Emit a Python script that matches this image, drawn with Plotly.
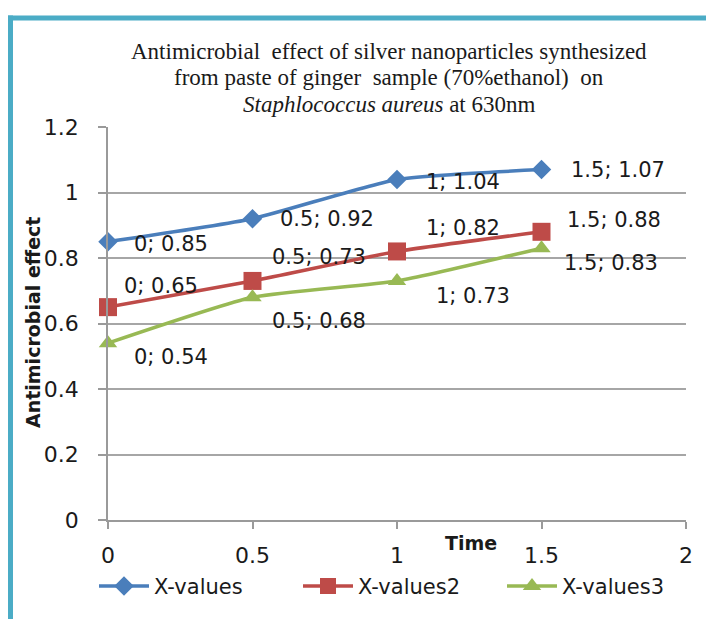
import plotly.graph_objects as go

# ---- data ----
time_x = [0, 0.5, 1, 1.5]
series1 = [0.85, 0.92, 1.04, 1.07]
series2 = [0.65, 0.73, 0.82, 0.88]
series3 = [0.54, 0.68, 0.73, 0.83]
series_names = ["X-values", "X-values2", "X-values3"]
x_ticks = [0, 0.5, 1, 1.5, 2]
y_ticks = [0, 0.2, 0.4, 0.6, 0.8, 1, 1.2]
title_lines = [
    "Antimicrobial  effect of silver nanoparticles synthesized",
    "from paste of ginger  sample (70%ethanol)  on",
    "<i>Staphlococcus aureus</i> at 630nm",
]

# ---- styles ----
colors = ["#4A7EBB", "#BE4B48", "#98B954"]
symbols = ["diamond", "square", "triangle-up"]
msizes = [15, 18, 16]
# label pixel offsets (xshift, yshift) per series / point
label_offsets = [
    [(24, -2), (25, 0), (27, -3), (27, 0)],
    [(14, 21), (17, 24), (27, 23), (23, 12)],
    [(24, -14), (17, -24), (37, -15), (20, -15)],
]

W, H = 706, 619
L, R, T, B = 108, 20, 127, 97
pw, ph = W - L - R, H - T - B

def px_x(p):
    return (p - L) / pw

def px_y(p):
    return (H - B - p) / ph

fig = go.Figure()
all_series = [series1, series2, series3]
for i, ys in enumerate(all_series):
    fig.add_trace(go.Scatter(
        x=time_x, y=ys, name=series_names[i], mode="lines+markers",
        line=dict(color=colors[i], width=3.5, shape="spline", smoothing=0.5),
        marker=dict(symbol=symbols[i], size=msizes[i], color=colors[i]),
        cliponaxis=False,
    ))

annotations = []
for i, ys in enumerate(all_series):
    for j, (xv, yv) in enumerate(zip(time_x, ys)):
        dx, dy = label_offsets[i][j]
        annotations.append(dict(
            x=xv, y=yv, xref="x", yref="y", text=f"{xv:g}; {yv:g}",
            showarrow=False, xanchor="left", yanchor="middle",
            xshift=dx, yshift=dy,
            font=dict(family="DejaVu Sans", size=21, color="#1a1a1a"),
        ))

title_y_px = [51, 77, 104]
for line, ypx in zip(title_lines, title_y_px):
    annotations.append(dict(
        x=px_x(389), y=px_y(ypx), xref="paper", yref="paper", text=line,
        showarrow=False, xanchor="center", yanchor="middle",
        font=dict(family="Liberation Serif", size=23, color="#1a1a1a"),
    ))

annotations.append(dict(
    x=px_x(471), y=px_y(545), xref="paper", yref="paper", text="<b>Time</b>",
    showarrow=False, xanchor="center", yanchor="middle",
    font=dict(family="DejaVu Sans", size=19, color="#1a1a1a"),
))
annotations.append(dict(
    x=px_x(33), y=px_y(324), xref="paper", yref="paper",
    text="<b>Antimicrobial effect</b>", textangle=-90,
    showarrow=False, xanchor="center", yanchor="middle",
    font=dict(family="DejaVu Sans", size=19, color="#1a1a1a"),
))

border_col = "#4BACC6"
shapes = [
    dict(type="rect", xref="paper", yref="paper", x0=px_x(8), x1=px_x(13),
         y0=px_y(15), y1=px_y(640), fillcolor=border_col, line=dict(width=0), layer="above"),
    dict(type="rect", xref="paper", yref="paper", x0=px_x(8), x1=px_x(720),
         y0=px_y(15), y1=px_y(20), fillcolor=border_col, line=dict(width=0), layer="above"),
]

fig.update_layout(
    width=W, height=H,
    margin=dict(l=L, r=R, t=T, b=B),
    paper_bgcolor="white", plot_bgcolor="white",
    showlegend=True,
    legend=dict(orientation="h", x=px_x(96), y=px_y(568), xanchor="left", yanchor="top",
                font=dict(family="DejaVu Sans", size=21, color="#1a1a1a"),
                entrywidth=139, itemwidth=50, bgcolor="rgba(0,0,0,0)"),
    annotations=annotations,
    shapes=shapes,
    xaxis=dict(range=[0, 2], tickvals=x_ticks, showgrid=False, zeroline=False,
               showline=True, linecolor="#9a9a9a", linewidth=1.5,
               ticks="outside", ticklen=7, tickcolor="#9a9a9a", tickwidth=1.5,
               ticklabelstandoff=8,
               tickfont=dict(family="DejaVu Sans", size=22, color="#1a1a1a")),
    yaxis=dict(range=[0, 1.2], tickvals=y_ticks, showgrid=True, gridcolor="#a6a6a6", gridwidth=1.5,
               zeroline=False, showline=True, linecolor="#9a9a9a", linewidth=1.5,
               ticks="outside", ticklen=8, tickcolor="#9a9a9a", tickwidth=1.5,
               ticklabelstandoff=15,
               tickfont=dict(family="DejaVu Sans", size=22, color="#1a1a1a")),
)

fig.write_html("out.html")
